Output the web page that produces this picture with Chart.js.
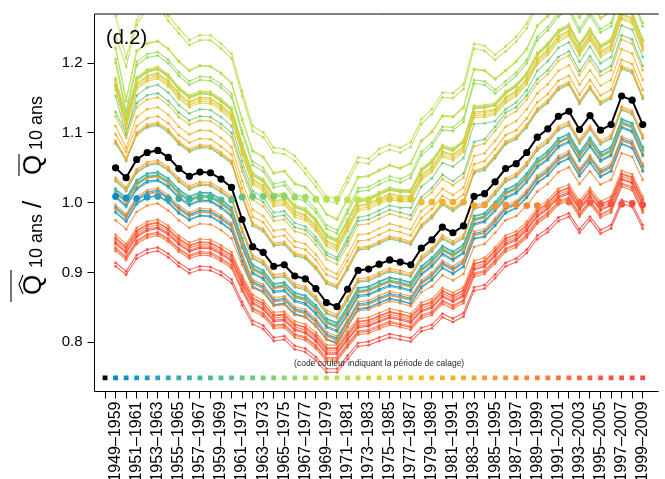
<!DOCTYPE html>
<html>
<head>
<meta charset="utf-8">
<script src="https://cdn.jsdelivr.net/npm/chart.js@4.4.1/dist/chart.umd.min.js"></script>
<style>
  html, body { margin: 0; padding: 0; background: #fff; }
  canvas { display: block; }
</style>
</head>
<body>
<canvas id="myChart" width="665" height="479"></canvas>
<script>
// periods (x positions 1..51), position 0 only carries the black code square
const periodLabels = ['1949–1959','1950–1960','1951–1961','1952–1962','1953–1963','1954–1964','1955–1965','1956–1966','1957–1967','1958–1968','1959–1969','1960–1970','1961–1971','1962–1972','1963–1973','1964–1974','1965–1975','1966–1976','1967–1977','1968–1978','1969–1979','1970–1980','1971–1981','1972–1982','1973–1983','1974–1984','1975–1985','1976–1986','1977–1987','1978–1988','1979–1989','1980–1990','1981–1991','1982–1992','1983–1993','1984–1994','1985–1995','1986–1996','1987–1997','1988–1998','1989–1999','1990–2000','1991–2001','1992–2002','1993–2003','1994–2004','1995–2005','1996–2006','1997–2007','1998–2008','1999–2009'];

const yTicks = [0.8, 0.9, 1.0, 1.1, 1.2];

// black line
const blackSeries = [1.050,1.036,1.062,1.072,1.075,1.065,1.049,1.038,1.044,1.043,1.034,1.022,0.976,0.937,0.929,0.909,0.911,0.895,0.891,0.877,0.857,0.851,0.876,0.903,0.905,0.912,0.918,0.915,0.911,0.935,0.947,0.965,0.957,0.967,1.009,1.013,1.030,1.049,1.056,1.072,1.094,1.106,1.124,1.131,1.105,1.125,1.104,1.112,1.153,1.147,1.112];

// big dot of each calibration period, on its own period
const calibrationDots = [1.009,1.007,1.006,1.008,1.009,1.006,1.006,1.005,1.008,1.008,1.004,1.004,1.008,1.009,1.009,1.009,1.009,1.008,1.008,1.005,1.005,1.005,1.004,1.004,1.004,1.004,1.005,1.005,1.005,1.001,1.001,1.001,1.001,1.001,0.996,0.997,0.995,0.997,0.997,0.996,0.996,0.996,1.002,1.001,1.000,1.000,0.998,0.998,0.998,0.999,0.997];

// one line per calibration period (1949–1959 ... 1999–2009)
const calibrationSeries = [
[1.009,0.996,1.021,1.031,1.033,1.024,1.008,0.998,1.004,1.003,0.994,0.982,0.938,0.900,0.892,0.873,0.875,0.860,0.856,0.842,0.823,0.817,0.841,0.867,0.869,0.876,0.882,0.879,0.875,0.898,0.910,0.927,0.919,0.929,0.970,0.974,0.990,1.008,1.015,1.031,1.052,1.063,1.081,1.088,1.062,1.082,1.061,1.069,1.109,1.103,1.069],
[1.020,1.007,1.032,1.042,1.044,1.035,1.019,1.009,1.015,1.014,1.005,0.993,0.949,0.911,0.903,0.884,0.886,0.871,0.867,0.853,0.834,0.828,0.852,0.878,0.880,0.887,0.893,0.890,0.886,0.909,0.921,0.938,0.930,0.940,0.981,0.985,1.001,1.019,1.026,1.042,1.063,1.074,1.092,1.099,1.073,1.093,1.072,1.080,1.120,1.114,1.080],
[0.994,0.981,1.006,1.015,1.018,1.008,0.993,0.983,0.989,0.988,0.979,0.968,0.924,0.887,0.880,0.861,0.863,0.848,0.844,0.831,0.812,0.806,0.830,0.855,0.857,0.864,0.870,0.867,0.863,0.886,0.897,0.914,0.906,0.916,0.956,0.959,0.975,0.993,1.000,1.015,1.036,1.047,1.064,1.071,1.046,1.065,1.045,1.053,1.092,1.086,1.053],
[0.987,0.974,0.999,1.008,1.011,1.001,0.986,0.976,0.982,0.981,0.972,0.961,0.917,0.880,0.873,0.854,0.856,0.841,0.837,0.824,0.805,0.799,0.823,0.848,0.850,0.857,0.863,0.860,0.856,0.879,0.890,0.907,0.899,0.909,0.949,0.952,0.968,0.986,0.993,1.008,1.029,1.040,1.057,1.064,1.039,1.058,1.038,1.046,1.085,1.079,1.046],
[0.986,0.973,0.998,1.007,1.010,1.000,0.985,0.975,0.981,0.980,0.971,0.960,0.916,0.879,0.872,0.853,0.855,0.840,0.836,0.823,0.804,0.798,0.822,0.847,0.849,0.856,0.862,0.859,0.855,0.878,0.889,0.906,0.898,0.908,0.948,0.951,0.967,0.985,0.992,1.007,1.028,1.039,1.056,1.063,1.038,1.057,1.037,1.045,1.084,1.078,1.045],
[0.992,0.979,1.004,1.013,1.016,1.006,0.991,0.981,0.987,0.986,0.977,0.966,0.922,0.885,0.878,0.859,0.861,0.846,0.842,0.829,0.810,0.804,0.828,0.853,0.855,0.862,0.868,0.865,0.861,0.884,0.895,0.912,0.904,0.914,0.954,0.957,0.973,0.991,0.998,1.013,1.034,1.045,1.062,1.069,1.044,1.063,1.043,1.051,1.090,1.084,1.051],
[1.007,0.994,1.019,1.029,1.031,1.022,1.006,0.996,1.002,1.001,0.992,0.980,0.936,0.898,0.890,0.871,0.873,0.858,0.854,0.840,0.821,0.815,0.839,0.865,0.867,0.874,0.880,0.877,0.873,0.896,0.908,0.925,0.917,0.927,0.968,0.972,0.988,1.006,1.013,1.029,1.050,1.061,1.079,1.086,1.060,1.080,1.059,1.067,1.107,1.101,1.067],
[1.016,1.003,1.028,1.038,1.040,1.031,1.015,1.005,1.011,1.010,1.001,0.989,0.945,0.907,0.899,0.880,0.882,0.867,0.863,0.849,0.830,0.824,0.848,0.874,0.876,0.883,0.889,0.886,0.882,0.905,0.917,0.934,0.926,0.936,0.977,0.981,0.997,1.015,1.022,1.038,1.059,1.070,1.088,1.095,1.069,1.089,1.068,1.076,1.116,1.110,1.076],
[1.014,1.001,1.026,1.036,1.038,1.029,1.013,1.003,1.009,1.008,0.999,0.987,0.943,0.905,0.897,0.878,0.880,0.865,0.861,0.847,0.828,0.822,0.846,0.872,0.874,0.881,0.887,0.884,0.880,0.903,0.915,0.932,0.924,0.934,0.975,0.979,0.995,1.013,1.020,1.036,1.057,1.068,1.086,1.093,1.067,1.087,1.066,1.074,1.114,1.108,1.074],
[1.015,1.002,1.027,1.037,1.039,1.030,1.014,1.004,1.010,1.009,1.000,0.988,0.944,0.906,0.898,0.879,0.881,0.866,0.862,0.848,0.829,0.823,0.847,0.873,0.875,0.882,0.888,0.885,0.881,0.904,0.916,0.933,0.925,0.935,0.976,0.980,0.996,1.014,1.021,1.037,1.058,1.069,1.087,1.094,1.068,1.088,1.067,1.075,1.115,1.109,1.075],
[1.019,1.006,1.031,1.041,1.043,1.034,1.018,1.008,1.014,1.013,1.004,0.992,0.948,0.910,0.902,0.883,0.885,0.870,0.866,0.852,0.833,0.827,0.851,0.877,0.879,0.886,0.892,0.889,0.885,0.908,0.920,0.937,0.929,0.939,0.980,0.984,1.000,1.018,1.025,1.041,1.062,1.073,1.091,1.098,1.072,1.092,1.071,1.079,1.119,1.113,1.079],
[1.031,1.017,1.043,1.053,1.056,1.046,1.030,1.019,1.025,1.024,1.015,1.004,0.958,0.920,0.912,0.892,0.894,0.879,0.875,0.861,0.841,0.835,0.860,0.886,0.888,0.895,0.901,0.898,0.894,0.918,0.930,0.948,0.940,0.949,0.991,0.995,1.012,1.030,1.037,1.053,1.075,1.086,1.104,1.111,1.085,1.105,1.084,1.092,1.133,1.127,1.092],
[1.085,1.060,1.097,1.108,1.111,1.101,1.084,1.073,1.079,1.078,1.068,1.056,1.008,0.967,0.959,0.938,0.940,0.924,0.920,0.905,0.884,0.878,0.904,0.932,0.934,0.941,0.948,0.945,0.940,0.965,0.978,0.997,0.988,0.999,1.042,1.047,1.064,1.084,1.091,1.108,1.131,1.143,1.162,1.169,1.142,1.163,1.141,1.149,1.192,1.186,1.149],
[1.130,1.099,1.143,1.154,1.157,1.146,1.129,1.118,1.124,1.123,1.113,1.100,1.051,1.010,1.001,0.980,0.982,0.965,0.961,0.946,0.925,0.918,0.945,0.974,0.976,0.983,0.990,0.986,0.982,1.008,1.021,1.040,1.031,1.042,1.087,1.091,1.109,1.129,1.137,1.154,1.177,1.190,1.209,1.217,1.189,1.210,1.188,1.196,1.240,1.234,1.196],
[1.153,1.097,1.154,1.165,1.169,1.158,1.140,1.128,1.134,1.133,1.123,1.110,1.060,1.017,1.008,0.986,0.988,0.971,0.966,0.951,0.929,0.922,0.950,0.979,0.982,0.989,0.996,0.993,0.993,1.023,1.035,1.057,1.052,1.064,1.113,1.114,1.117,1.134,1.144,1.161,1.189,1.203,1.222,1.230,1.202,1.224,1.200,1.209,1.254,1.248,1.209],
[1.177,1.121,1.178,1.189,1.193,1.182,1.164,1.152,1.158,1.157,1.147,1.134,1.084,1.041,1.032,1.010,1.012,0.995,0.990,0.975,0.953,0.946,0.974,1.003,1.006,1.013,1.020,1.017,1.017,1.047,1.059,1.081,1.076,1.088,1.137,1.138,1.141,1.158,1.168,1.185,1.213,1.227,1.246,1.254,1.226,1.248,1.224,1.233,1.278,1.272,1.233],
[1.175,1.119,1.176,1.187,1.191,1.180,1.162,1.150,1.156,1.155,1.145,1.132,1.082,1.039,1.030,1.008,1.010,0.993,0.988,0.973,0.951,0.944,0.972,1.001,1.004,1.011,1.018,1.015,1.015,1.045,1.057,1.079,1.074,1.086,1.135,1.136,1.139,1.156,1.166,1.183,1.211,1.225,1.244,1.252,1.224,1.246,1.222,1.231,1.276,1.270,1.231],
[1.201,1.126,1.197,1.208,1.211,1.200,1.182,1.169,1.176,1.175,1.165,1.151,1.099,1.054,1.045,1.022,1.025,1.007,1.002,0.986,0.963,0.956,0.985,1.016,1.018,1.026,1.033,1.029,1.036,1.068,1.081,1.104,1.103,1.116,1.171,1.169,1.157,1.169,1.182,1.200,1.233,1.247,1.267,1.275,1.245,1.268,1.244,1.253,1.300,1.293,1.253],
[1.206,1.131,1.202,1.213,1.216,1.205,1.187,1.174,1.181,1.180,1.170,1.156,1.104,1.059,1.050,1.027,1.030,1.012,1.007,0.991,0.968,0.961,0.990,1.021,1.023,1.031,1.038,1.034,1.041,1.073,1.086,1.109,1.108,1.121,1.176,1.174,1.162,1.174,1.187,1.205,1.238,1.252,1.272,1.280,1.250,1.273,1.249,1.258,1.305,1.298,1.258],
[1.221,1.146,1.217,1.228,1.231,1.220,1.202,1.189,1.196,1.195,1.185,1.171,1.119,1.074,1.065,1.042,1.045,1.027,1.022,1.006,0.983,0.976,1.005,1.036,1.038,1.046,1.053,1.049,1.056,1.088,1.101,1.124,1.123,1.136,1.191,1.189,1.177,1.189,1.202,1.220,1.253,1.267,1.287,1.295,1.265,1.288,1.264,1.273,1.320,1.313,1.273],
[1.240,1.195,1.255,1.278,1.283,1.261,1.243,1.226,1.233,1.233,1.221,1.207,1.153,1.103,1.094,1.072,1.070,1.060,1.042,1.023,1.002,0.999,1.029,1.058,1.056,1.070,1.076,1.072,1.080,1.113,1.127,1.151,1.150,1.163,1.221,1.218,1.205,1.217,1.231,1.250,1.284,1.298,1.319,1.328,1.297,1.321,1.296,1.305,1.354,1.346,1.305],
[1.268,1.207,1.262,1.285,1.290,1.268,1.250,1.233,1.240,1.240,1.228,1.214,1.160,1.110,1.101,1.079,1.077,1.067,1.049,1.030,1.009,1.006,1.036,1.065,1.063,1.077,1.083,1.079,1.087,1.120,1.134,1.158,1.157,1.170,1.228,1.225,1.212,1.224,1.238,1.257,1.291,1.305,1.326,1.335,1.304,1.328,1.303,1.312,1.361,1.353,1.312],
[1.222,1.147,1.218,1.229,1.232,1.221,1.203,1.190,1.197,1.196,1.186,1.172,1.120,1.075,1.066,1.043,1.046,1.028,1.023,1.007,0.984,0.977,1.006,1.037,1.039,1.047,1.054,1.050,1.057,1.089,1.102,1.125,1.124,1.137,1.192,1.190,1.178,1.190,1.203,1.221,1.254,1.268,1.288,1.296,1.266,1.289,1.265,1.274,1.321,1.314,1.274],
[1.179,1.123,1.180,1.191,1.195,1.184,1.166,1.154,1.160,1.159,1.149,1.136,1.086,1.043,1.034,1.012,1.014,0.997,0.992,0.977,0.955,0.948,0.976,1.005,1.008,1.015,1.022,1.019,1.019,1.049,1.061,1.083,1.078,1.090,1.139,1.140,1.143,1.160,1.170,1.187,1.215,1.229,1.248,1.256,1.228,1.250,1.226,1.235,1.280,1.274,1.235],
[1.176,1.120,1.177,1.188,1.192,1.181,1.163,1.151,1.157,1.156,1.146,1.133,1.083,1.040,1.031,1.009,1.011,0.994,0.989,0.974,0.952,0.945,0.973,1.002,1.005,1.012,1.019,1.016,1.016,1.046,1.058,1.080,1.075,1.087,1.136,1.137,1.140,1.157,1.167,1.184,1.212,1.226,1.245,1.253,1.225,1.247,1.223,1.232,1.277,1.271,1.232],
[1.168,1.112,1.169,1.180,1.184,1.173,1.155,1.143,1.149,1.148,1.138,1.125,1.075,1.032,1.023,1.001,1.003,0.986,0.981,0.966,0.944,0.937,0.965,0.994,0.997,1.004,1.011,1.008,1.008,1.038,1.050,1.072,1.067,1.079,1.128,1.129,1.132,1.149,1.159,1.176,1.204,1.218,1.237,1.245,1.217,1.239,1.215,1.224,1.269,1.263,1.224],
[1.162,1.106,1.163,1.174,1.178,1.167,1.149,1.137,1.143,1.142,1.132,1.119,1.069,1.026,1.017,0.995,0.997,0.980,0.975,0.960,0.938,0.931,0.959,0.988,0.991,0.998,1.005,1.002,1.002,1.032,1.044,1.066,1.061,1.073,1.122,1.123,1.126,1.143,1.153,1.170,1.198,1.212,1.231,1.239,1.211,1.233,1.209,1.218,1.263,1.257,1.218],
[1.165,1.109,1.166,1.177,1.181,1.170,1.152,1.140,1.146,1.145,1.135,1.122,1.072,1.029,1.020,0.998,1.000,0.983,0.978,0.963,0.941,0.934,0.962,0.991,0.994,1.001,1.008,1.005,1.005,1.035,1.047,1.069,1.064,1.076,1.125,1.126,1.129,1.146,1.156,1.173,1.201,1.215,1.234,1.242,1.214,1.236,1.212,1.221,1.266,1.260,1.221],
[1.170,1.114,1.171,1.182,1.186,1.175,1.157,1.145,1.151,1.150,1.140,1.127,1.077,1.034,1.025,1.003,1.005,0.988,0.983,0.968,0.946,0.939,0.967,0.996,0.999,1.006,1.013,1.010,1.010,1.040,1.052,1.074,1.069,1.081,1.130,1.131,1.134,1.151,1.161,1.178,1.206,1.220,1.239,1.247,1.219,1.241,1.217,1.226,1.271,1.265,1.226],
[1.124,1.093,1.137,1.148,1.151,1.140,1.123,1.112,1.118,1.117,1.107,1.094,1.045,1.004,0.995,0.974,0.976,0.959,0.955,0.940,0.919,0.912,0.939,0.968,0.970,0.977,0.984,0.980,0.976,1.002,1.015,1.034,1.025,1.036,1.081,1.085,1.103,1.123,1.131,1.148,1.171,1.184,1.203,1.211,1.183,1.204,1.182,1.190,1.234,1.228,1.190],
[1.110,1.079,1.123,1.134,1.137,1.126,1.109,1.098,1.104,1.103,1.093,1.080,1.031,0.990,0.981,0.960,0.962,0.945,0.941,0.926,0.905,0.898,0.925,0.954,0.956,0.963,0.970,0.966,0.962,0.988,1.001,1.020,1.011,1.022,1.067,1.071,1.089,1.109,1.117,1.134,1.157,1.170,1.189,1.197,1.169,1.190,1.168,1.176,1.220,1.214,1.176],
[1.089,1.064,1.101,1.112,1.115,1.105,1.088,1.077,1.083,1.082,1.072,1.060,1.012,0.971,0.963,0.942,0.944,0.928,0.924,0.909,0.888,0.882,0.908,0.936,0.938,0.945,0.952,0.949,0.944,0.969,0.982,1.001,0.992,1.003,1.046,1.051,1.068,1.088,1.095,1.112,1.135,1.147,1.166,1.173,1.146,1.167,1.145,1.153,1.196,1.190,1.153],
[1.098,1.073,1.110,1.121,1.124,1.114,1.097,1.086,1.092,1.091,1.081,1.069,1.021,0.980,0.972,0.951,0.953,0.937,0.933,0.918,0.897,0.891,0.917,0.945,0.947,0.954,0.961,0.958,0.953,0.978,0.991,1.010,1.001,1.012,1.055,1.060,1.077,1.097,1.104,1.121,1.144,1.156,1.175,1.182,1.155,1.176,1.154,1.162,1.205,1.199,1.162],
[1.087,1.062,1.099,1.110,1.113,1.103,1.086,1.075,1.081,1.080,1.070,1.058,1.010,0.969,0.961,0.940,0.942,0.926,0.922,0.907,0.886,0.880,0.906,0.934,0.936,0.943,0.950,0.947,0.942,0.967,0.980,0.999,0.990,1.001,1.044,1.049,1.066,1.086,1.093,1.110,1.133,1.145,1.164,1.171,1.144,1.165,1.143,1.151,1.194,1.188,1.151],
[1.036,1.022,1.048,1.058,1.061,1.051,1.035,1.024,1.030,1.029,1.020,1.009,0.963,0.925,0.917,0.897,0.899,0.884,0.880,0.866,0.846,0.840,0.865,0.891,0.893,0.900,0.906,0.903,0.899,0.923,0.935,0.953,0.945,0.954,0.996,1.000,1.017,1.035,1.042,1.058,1.080,1.091,1.109,1.116,1.090,1.110,1.089,1.097,1.138,1.132,1.097],
[1.033,1.019,1.045,1.055,1.058,1.048,1.032,1.021,1.027,1.026,1.017,1.006,0.960,0.922,0.914,0.894,0.896,0.881,0.877,0.863,0.843,0.837,0.862,0.888,0.890,0.897,0.903,0.900,0.896,0.920,0.932,0.950,0.942,0.951,0.993,0.997,1.014,1.032,1.039,1.055,1.077,1.088,1.106,1.113,1.087,1.107,1.086,1.094,1.135,1.129,1.094],
[1.013,1.000,1.025,1.035,1.037,1.028,1.012,1.002,1.008,1.007,0.998,0.986,0.942,0.904,0.896,0.877,0.879,0.864,0.860,0.846,0.827,0.821,0.845,0.871,0.873,0.880,0.886,0.883,0.879,0.902,0.914,0.931,0.923,0.933,0.974,0.978,0.994,1.012,1.019,1.035,1.056,1.067,1.085,1.092,1.066,1.086,1.065,1.073,1.113,1.107,1.073],
[0.997,0.984,1.009,1.018,1.021,1.011,0.996,0.986,0.992,0.991,0.982,0.971,0.927,0.890,0.883,0.864,0.866,0.851,0.847,0.834,0.815,0.809,0.833,0.858,0.860,0.867,0.873,0.870,0.866,0.889,0.900,0.917,0.909,0.919,0.959,0.962,0.978,0.996,1.003,1.018,1.039,1.050,1.067,1.074,1.049,1.068,1.048,1.056,1.095,1.089,1.056],
[0.991,0.978,1.003,1.012,1.015,1.005,0.990,0.980,0.986,0.985,0.976,0.965,0.921,0.884,0.877,0.858,0.860,0.845,0.841,0.828,0.809,0.803,0.827,0.852,0.854,0.861,0.867,0.864,0.860,0.883,0.894,0.911,0.903,0.913,0.953,0.956,0.972,0.990,0.997,1.012,1.033,1.044,1.061,1.068,1.043,1.062,1.042,1.050,1.089,1.083,1.050],
[0.975,0.962,0.987,0.996,0.999,0.989,0.975,0.964,0.970,0.969,0.961,0.949,0.911,0.878,0.871,0.852,0.854,0.839,0.836,0.823,0.804,0.801,0.823,0.845,0.847,0.853,0.859,0.856,0.852,0.872,0.880,0.896,0.889,0.898,0.937,0.941,0.957,0.975,0.981,0.996,1.016,1.027,1.044,1.051,1.027,1.045,1.026,1.033,1.071,1.066,1.033],
[0.954,0.941,0.964,0.973,0.976,0.967,0.953,0.943,0.948,0.947,0.939,0.929,0.896,0.868,0.860,0.843,0.844,0.830,0.826,0.814,0.796,0.796,0.816,0.834,0.836,0.842,0.848,0.845,0.841,0.857,0.862,0.878,0.871,0.879,0.917,0.921,0.936,0.953,0.959,0.973,0.993,1.004,1.020,1.026,1.003,1.021,1.002,1.009,1.046,1.041,1.009],
[0.946,0.933,0.956,0.965,0.968,0.959,0.945,0.935,0.940,0.939,0.931,0.921,0.888,0.860,0.852,0.835,0.836,0.822,0.818,0.806,0.788,0.788,0.808,0.826,0.828,0.834,0.840,0.837,0.833,0.849,0.854,0.870,0.863,0.871,0.909,0.913,0.928,0.945,0.951,0.965,0.985,0.996,1.012,1.018,0.995,1.013,0.994,1.001,1.038,1.033,1.001],
[0.936,0.923,0.946,0.955,0.958,0.949,0.935,0.925,0.930,0.929,0.921,0.911,0.878,0.850,0.842,0.825,0.826,0.812,0.808,0.796,0.778,0.778,0.798,0.816,0.818,0.824,0.830,0.827,0.823,0.839,0.844,0.860,0.853,0.861,0.899,0.903,0.918,0.935,0.941,0.955,0.975,0.986,1.002,1.008,0.985,1.003,0.984,0.991,1.028,1.023,0.991],
[0.931,0.918,0.941,0.950,0.953,0.944,0.930,0.920,0.925,0.924,0.916,0.906,0.873,0.845,0.837,0.820,0.821,0.807,0.803,0.791,0.773,0.773,0.793,0.811,0.813,0.819,0.825,0.822,0.818,0.834,0.839,0.855,0.848,0.856,0.894,0.898,0.913,0.930,0.936,0.950,0.970,0.981,0.997,1.003,0.980,0.998,0.979,0.986,1.023,1.018,0.986],
[0.950,0.937,0.960,0.969,0.972,0.963,0.949,0.939,0.944,0.943,0.935,0.925,0.892,0.864,0.856,0.839,0.840,0.826,0.822,0.810,0.792,0.792,0.812,0.830,0.832,0.838,0.844,0.841,0.837,0.853,0.858,0.874,0.867,0.875,0.913,0.917,0.932,0.949,0.955,0.969,0.989,1.000,1.016,1.022,0.999,1.017,0.998,1.005,1.042,1.037,1.005],
[0.934,0.921,0.944,0.953,0.956,0.947,0.933,0.923,0.928,0.927,0.919,0.909,0.876,0.848,0.840,0.823,0.824,0.810,0.806,0.794,0.776,0.776,0.796,0.814,0.816,0.822,0.828,0.825,0.821,0.837,0.842,0.858,0.851,0.859,0.897,0.901,0.916,0.933,0.939,0.953,0.973,0.984,1.000,1.006,0.983,1.001,0.982,0.989,1.026,1.021,0.989],
[0.949,0.936,0.959,0.968,0.971,0.962,0.948,0.938,0.943,0.942,0.934,0.924,0.891,0.863,0.855,0.838,0.839,0.825,0.821,0.809,0.791,0.791,0.811,0.829,0.831,0.837,0.843,0.840,0.836,0.852,0.857,0.873,0.866,0.874,0.912,0.916,0.931,0.948,0.954,0.968,0.988,0.999,1.015,1.021,0.998,1.016,0.997,1.004,1.041,1.036,1.004],
[0.943,0.930,0.953,0.962,0.965,0.956,0.942,0.932,0.937,0.936,0.928,0.918,0.885,0.857,0.849,0.832,0.833,0.819,0.815,0.803,0.785,0.785,0.805,0.823,0.825,0.831,0.837,0.834,0.830,0.846,0.851,0.867,0.860,0.868,0.906,0.910,0.925,0.942,0.948,0.962,0.982,0.993,1.009,1.015,0.992,1.010,0.991,0.998,1.035,1.030,0.998],
[0.909,0.897,0.920,0.928,0.931,0.922,0.909,0.899,0.904,0.903,0.896,0.885,0.853,0.826,0.819,0.802,0.804,0.790,0.786,0.774,0.757,0.757,0.776,0.794,0.796,0.802,0.807,0.804,0.801,0.816,0.820,0.836,0.829,0.837,0.874,0.877,0.892,0.909,0.915,0.928,0.948,0.958,0.974,0.980,0.957,0.975,0.956,0.963,0.999,0.994,0.963],
[0.914,0.902,0.925,0.933,0.936,0.927,0.914,0.904,0.909,0.908,0.901,0.890,0.858,0.831,0.824,0.807,0.809,0.795,0.791,0.779,0.762,0.762,0.781,0.799,0.801,0.807,0.812,0.809,0.806,0.821,0.825,0.841,0.834,0.842,0.879,0.882,0.897,0.914,0.920,0.933,0.953,0.963,0.979,0.985,0.962,0.980,0.961,0.968,1.004,0.999,0.968],
[0.941,0.928,0.951,0.960,0.963,0.954,0.940,0.930,0.935,0.934,0.926,0.916,0.883,0.855,0.847,0.830,0.831,0.817,0.813,0.801,0.783,0.783,0.803,0.821,0.823,0.829,0.835,0.832,0.828,0.844,0.849,0.865,0.858,0.866,0.904,0.908,0.923,0.940,0.946,0.960,0.980,0.991,1.007,1.013,0.990,1.008,0.989,0.996,1.033,1.028,0.996]
];

const FONT = '"Liberation Sans", Arial, Helvetica, sans-serif';
const codeRowLevel = 0.749;   // height of the colour-code squares
const noteLevel = 0.7695;     // height of the small note

// colour ramp blue -> green -> yellow -> orange -> red (style only)
const rampStops = ['#0a86cc','#2aa0be','#45b39c','#62c284','#86d36c','#aee25a','#c9dc45','#e0c93a','#f0b52e','#f7a030','#f98a36','#f9723c','#f75a42','#f54848'];
function hexRgb(h) {
    return [parseInt(h.slice(1, 3), 16), parseInt(h.slice(3, 5), 16), parseInt(h.slice(5, 7), 16)];
}
function rampColor(t, alpha) {
    const pos = t * (rampStops.length - 1);
    const i = Math.min(Math.floor(pos), rampStops.length - 2);
    const f = pos - i;
    const a = hexRgb(rampStops[i]), b = hexRgb(rampStops[i + 1]);
    const c = a.map((v, k) => Math.round(v + (b[k] - v) * f));
    return `rgba(${c[0]},${c[1]},${c[2]},${alpha})`;
}
const nCal = calibrationSeries.length;
const solidColors = calibrationSeries.map((s, k) => rampColor(k / (nCal - 1), 1));
const lineColors = calibrationSeries.map((s, k) => rampColor(k / (nCal - 1), 0.85));

const datasets = [];

// colour code row
datasets.push({
    label: 'code',
    data: [0].concat(periodLabels.map((p, i) => i + 1)).map(x => ({x: x, y: codeRowLevel})),
    showLine: false,
    pointStyle: 'rect',
    pointRadius: 3.4,
    pointBorderWidth: 0,
    pointBackgroundColor: ['#000'].concat(solidColors),
    order: 0
});

// big dots
datasets.push({
    label: 'calage',
    data: calibrationDots.map((v, i) => ({x: i + 1, y: v})),
    showLine: false,
    pointRadius: 3.4,
    pointBorderWidth: 0,
    pointBackgroundColor: solidColors,
    order: 0
});

// black line
datasets.push({
    label: 'noir',
    data: blackSeries.map((v, i) => ({x: i + 1, y: v})),
    borderColor: '#000',
    backgroundColor: '#000',
    borderWidth: 2,
    pointRadius: 3.6,
    pointBorderWidth: 0,
    order: 1
});

calibrationSeries.forEach((vals, k) => {
    datasets.push({
        label: periodLabels[k],
        data: vals.map((v, i) => ({x: i + 1, y: v})),
        borderColor: lineColors[k],
        backgroundColor: lineColors[k],
        borderWidth: 1.1,
        pointRadius: 1.5,
        pointBorderWidth: 0,
        order: 200 - k
    });
});

const decorations = {
    id: 'decorations',
    afterDraw(chart) {
        const {ctx, chartArea: a, scales} = chart;
        ctx.save();
        // frame
        ctx.strokeStyle = '#000';
        ctx.lineWidth = 1;
        ctx.beginPath();
        ctx.moveTo(a.right + 2, a.top);
        ctx.lineTo(a.left, a.top);
        ctx.lineTo(a.left, a.bottom);
        ctx.lineTo(a.right + 2, a.bottom);
        ctx.stroke();

        // panel tag
        ctx.fillStyle = '#000';
        ctx.font = '20px ' + FONT;
        ctx.textAlign = 'left';
        ctx.textBaseline = 'middle';
        ctx.fillText('(d.2)', 106, 38);

        // note
        ctx.font = '8.5px ' + FONT;
        ctx.fillStyle = '#222';
        ctx.textAlign = 'center';
        ctx.fillText('(code couleur indiquant la période de calage)',
            scales.x.getPixelForValue(26), scales.y.getPixelForValue(noteLevel));

        // y title: Q-hat 10 ans / Q-bar 10 ans
        ctx.translate(41, 302);
        ctx.rotate(-Math.PI / 2);
        ctx.fillStyle = '#000';
        ctx.strokeStyle = '#000';
        ctx.textAlign = 'left';
        ctx.textBaseline = 'alphabetic';
        const big = '26px ' + FONT, small = '18px ' + FONT;
        ctx.font = big;
        ctx.fillText('Q', 7, 0);
        ctx.lineWidth = 1.1;
        ctx.beginPath();
        ctx.moveTo(8, -18); ctx.lineTo(17.5, -22); ctx.lineTo(27, -18);
        ctx.stroke();
        ctx.beginPath();
        ctx.moveTo(0, -30); ctx.lineTo(32, -30);
        ctx.stroke();
        ctx.font = small;
        ctx.fillText('10 ans', 34, 1);
        ctx.font = big;
        ctx.fillText('/', 94, 0);
        ctx.fillText('Q', 127, 0);
        ctx.beginPath();
        ctx.moveTo(126, -22); ctx.lineTo(148, -22);
        ctx.stroke();
        ctx.font = small;
        ctx.fillText('10 ans', 152, 1);
        ctx.restore();
    }
};

const config = {
    type: 'line',
    data: {datasets: datasets},
    options: {
        responsive: false,
        devicePixelRatio: 1,
        animation: false,
        layout: {padding: {top: 10.5, left: 0, right: 0, bottom: 0}},
        plugins: {legend: {display: false}, tooltip: {enabled: false}},
        scales: {
            x: {
                type: 'linear',
                min: -1,
                max: 52.32,
                afterBuildTicks: s => { s.ticks = [0].concat(periodLabels.map((p, i) => i + 1)).map(v => ({value: v})); },
                afterFit: s => { s.height = 87.5; },
                grid: {drawOnChartArea: false, color: '#000', lineWidth: 1, tickLength: 7},
                border: {display: false},
                ticks: {
                    autoSkip: false,
                    minRotation: 90,
                    maxRotation: 90,
                    padding: 3,
                    color: '#000',
                    font: {family: FONT, size: 16},
                    callback: v => {
                        const i = Math.round(v);
                        return (i >= 1 && i % 2 === 1) ? periodLabels[i - 1] : '';
                    }
                }
            },
            y: {
                type: 'linear',
                min: 0.7295,
                max: 1.2705,
                afterBuildTicks: s => { s.ticks = yTicks.map(v => ({value: v})); },
                afterFit: s => { s.width = 94.5; },
                grid: {drawOnChartArea: false, color: '#000', lineWidth: 1, tickLength: 7},
                border: {display: false},
                ticks: {
                    padding: 5,
                    color: '#000',
                    font: {family: FONT, size: 15},
                    callback: v => v.toFixed(1)
                }
            }
        }
    },
    plugins: [decorations]
};

const myChart = new Chart(document.getElementById('myChart'), config);
</script>
</body>
</html>
